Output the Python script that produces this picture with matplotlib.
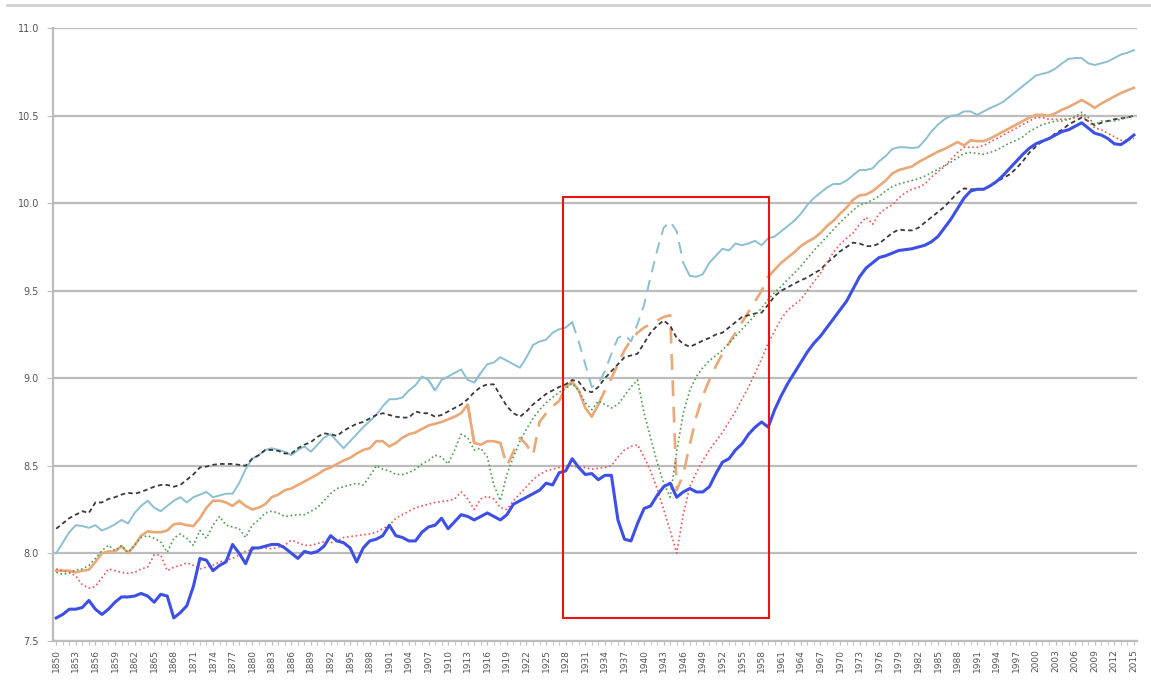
import matplotlib
matplotlib.use("Agg")
import matplotlib.pyplot as plt
import numpy as np
from matplotlib.lines import Line2D
from matplotlib.patches import Rectangle

years = list(range(1850, 2016))

blue = [7.63, 7.65, 7.68, 7.68, 7.69, 7.73, 7.68, 7.65, 7.68, 7.72,
        7.75, 7.75, 7.755, 7.77, 7.755, 7.72, 7.765, 7.755, 7.63, 7.66,
        7.70, 7.81, 7.97, 7.96, 7.90, 7.93, 7.95, 8.05, 8.00, 7.94,
        8.03, 8.03, 8.04, 8.05, 8.05, 8.03, 8.00, 7.97, 8.01, 8.00,
        8.01, 8.04, 8.10, 8.07, 8.06, 8.03, 7.95, 8.03, 8.07, 8.08,
        8.10, 8.16, 8.10, 8.09, 8.07, 8.07, 8.12, 8.15, 8.16, 8.20,
        8.14, 8.18, 8.22, 8.21, 8.19, 8.21, 8.23, 8.21, 8.19, 8.22,
        8.28, 8.30, 8.32, 8.34, 8.36, 8.40, 8.39, 8.46, 8.47, 8.54,
        8.49, 8.45, 8.455, 8.42, 8.445, 8.445, 8.19, 8.08, 8.07, 8.17,
        8.255, 8.27, 8.33, 8.38, 8.40, 8.32, 8.35, 8.37, 8.35, 8.35,
        8.38, 8.455, 8.52, 8.54, 8.59, 8.625, 8.68, 8.72, 8.75, 8.72,
        8.82, 8.90, 8.97, 9.03, 9.09, 9.15, 9.20, 9.24, 9.29, 9.34,
        9.39, 9.44, 9.51, 9.58, 9.63, 9.66, 9.69, 9.70, 9.715, 9.73,
        9.735, 9.74, 9.75, 9.76, 9.78, 9.81, 9.86, 9.91, 9.97, 10.03,
        10.07, 10.08, 10.08, 10.10, 10.125, 10.16, 10.20, 10.24, 10.28, 10.315,
        10.34, 10.355, 10.37, 10.39, 10.41, 10.42, 10.44, 10.46, 10.43, 10.40,
        10.39, 10.37, 10.34, 10.335, 10.36, 10.39]

light_blue = [8.00, 8.06, 8.12, 8.16, 8.155, 8.145, 8.16, 8.13, 8.145, 8.165,
              8.19, 8.17, 8.23, 8.27, 8.30, 8.26, 8.24, 8.27, 8.30, 8.32,
              8.29, 8.32, 8.335, 8.35, 8.32, 8.33, 8.34, 8.34, 8.40, 8.48,
              8.54, 8.56, 8.59, 8.60, 8.59, 8.58, 8.56, 8.59, 8.61, 8.58,
              8.62, 8.66, 8.68, 8.64, 8.60, 8.64, 8.68, 8.72, 8.755, 8.79,
              8.84, 8.88, 8.88, 8.89, 8.93, 8.96, 9.01, 8.99, 8.93, 8.99,
              9.01, 9.03, 9.05, 8.99, 8.975, 9.03, 9.08, 9.09, 9.12, 9.10,
              9.08, 9.06, 9.12, 9.19, 9.21, 9.22, 9.26, 9.28, 9.29, 9.32,
              9.21, 9.08, 8.95, 8.97, 9.04, 9.14, 9.23, 9.25, 9.21, 9.31,
              9.42, 9.58, 9.73, 9.86, 9.895, 9.84, 9.66, 9.585, 9.58, 9.595,
              9.66, 9.70, 9.74, 9.73, 9.77, 9.76, 9.77, 9.785, 9.76, 9.80,
              9.81, 9.84, 9.87, 9.90, 9.94, 9.99, 10.03, 10.06, 10.09, 10.11,
              10.11, 10.13, 10.16, 10.19, 10.19, 10.20, 10.24, 10.27, 10.31, 10.32,
              10.32, 10.315, 10.32, 10.36, 10.41, 10.45, 10.48, 10.50, 10.505, 10.525,
              10.525, 10.505, 10.525, 10.545, 10.56, 10.58, 10.61, 10.64, 10.67, 10.70,
              10.73, 10.74, 10.75, 10.77, 10.80, 10.825, 10.83, 10.83, 10.80, 10.79,
              10.80, 10.81, 10.83, 10.85, 10.86, 10.875]

orange = [7.90, 7.90, 7.90, 7.89, 7.90, 7.905, 7.95, 8.00, 8.01, 8.01,
          8.04, 8.00, 8.045, 8.10, 8.125, 8.12, 8.12, 8.13, 8.165, 8.17,
          8.16, 8.155, 8.20, 8.26, 8.30, 8.30, 8.29, 8.27, 8.30, 8.27,
          8.25, 8.26, 8.28, 8.32, 8.335, 8.36, 8.37, 8.39, 8.41, 8.43,
          8.45, 8.475, 8.49, 8.51, 8.53, 8.545, 8.57, 8.59, 8.60, 8.64,
          8.64, 8.61, 8.63, 8.66, 8.68, 8.69, 8.71, 8.73, 8.74, 8.75,
          8.765, 8.78, 8.80, 8.85, 8.63, 8.62, 8.64, 8.64, 8.63, 8.50,
          8.58, 8.66, 8.62, 8.56, 8.75, 8.80, 8.84, 8.87, 8.95, 8.98,
          8.93, 8.83, 8.78, 8.85, 8.93, 9.00, 9.08, 9.16, 9.22, 9.26,
          9.29, 9.31, 9.33, 9.35, 9.36, 8.36, 8.45, 8.62, 8.78, 8.90,
          8.99, 9.07, 9.14, 9.20, 9.26, 9.32, 9.38, 9.44, 9.50, 9.58,
          9.62, 9.66, 9.69, 9.72, 9.755, 9.78, 9.80, 9.83, 9.87, 9.90,
          9.94, 9.975, 10.02, 10.045, 10.05, 10.07, 10.10, 10.13, 10.17, 10.19,
          10.20, 10.21, 10.235, 10.255, 10.275, 10.295, 10.31, 10.33, 10.35, 10.33,
          10.36, 10.355, 10.355, 10.37, 10.39, 10.41, 10.43, 10.45, 10.47, 10.49,
          10.505, 10.505, 10.50, 10.515, 10.535, 10.55, 10.57, 10.59, 10.57, 10.545,
          10.57, 10.59, 10.61, 10.63, 10.645, 10.66]

green = [7.89, 7.88, 7.885, 7.905, 7.91, 7.93, 7.97, 8.015, 8.045, 8.015,
         8.045, 8.005, 8.045, 8.09, 8.10, 8.085, 8.065, 8.005, 8.085, 8.11,
         8.085, 8.045, 8.13, 8.085, 8.16, 8.21, 8.16, 8.15, 8.14, 8.09,
         8.16, 8.19, 8.23, 8.24, 8.23, 8.21, 8.215, 8.22, 8.22, 8.24,
         8.26, 8.30, 8.34, 8.37, 8.38, 8.39, 8.40, 8.39, 8.44, 8.50,
         8.48, 8.47, 8.45, 8.45, 8.46, 8.48, 8.51, 8.53, 8.56, 8.55,
         8.51, 8.59, 8.68, 8.66, 8.59, 8.60, 8.55, 8.39, 8.30, 8.45,
         8.55, 8.64, 8.71, 8.77, 8.82, 8.86, 8.89, 8.92, 8.94, 8.97,
         8.93, 8.86, 8.82, 8.87, 8.85, 8.83, 8.85, 8.90, 8.95, 8.99,
         8.80, 8.66, 8.52, 8.40, 8.32, 8.58, 8.80, 8.93, 9.01, 9.06,
         9.10, 9.13, 9.16, 9.20, 9.24, 9.28, 9.32, 9.36, 9.40, 9.45,
         9.49, 9.525, 9.565, 9.60, 9.64, 9.685, 9.73, 9.77, 9.81, 9.85,
         9.89, 9.925, 9.96, 9.99, 10.00, 10.02, 10.04, 10.07, 10.095, 10.11,
         10.12, 10.13, 10.14, 10.155, 10.175, 10.195, 10.215, 10.235, 10.26, 10.285,
         10.29, 10.285, 10.28, 10.29, 10.305, 10.325, 10.345, 10.36, 10.38, 10.41,
         10.43, 10.45, 10.46, 10.47, 10.47, 10.48, 10.495, 10.52, 10.49, 10.45,
         10.47, 10.47, 10.47, 10.48, 10.49, 10.50]

red = [7.91, 7.90, 7.89, 7.87, 7.82, 7.80, 7.81, 7.86, 7.91, 7.90,
       7.89, 7.885, 7.89, 7.91, 7.92, 7.99, 7.99, 7.90, 7.92, 7.93,
       7.945, 7.93, 7.91, 7.92, 7.93, 7.95, 7.96, 7.97, 7.99, 8.01,
       8.02, 8.03, 8.03, 8.025, 8.035, 8.045, 8.075, 8.06, 8.045, 8.045,
       8.055, 8.065, 8.06, 8.07, 8.09, 8.095, 8.10, 8.105, 8.11, 8.12,
       8.14, 8.16, 8.20, 8.22, 8.24, 8.26, 8.27, 8.28, 8.29, 8.295,
       8.30, 8.31, 8.35, 8.31, 8.25, 8.31, 8.325, 8.31, 8.26, 8.25,
       8.30, 8.34, 8.38, 8.42, 8.45, 8.47, 8.48, 8.49, 8.50, 8.50,
       8.49, 8.49, 8.48, 8.485, 8.49, 8.50, 8.55, 8.59, 8.61, 8.62,
       8.55, 8.47, 8.37, 8.25, 8.13, 8.00, 8.22, 8.38, 8.46, 8.53,
       8.59, 8.64, 8.69, 8.75, 8.81, 8.88, 8.95, 9.03, 9.11, 9.20,
       9.27, 9.34, 9.39, 9.42, 9.45, 9.50, 9.55, 9.60, 9.66, 9.72,
       9.765, 9.80, 9.83, 9.88, 9.92, 9.88, 9.94, 9.97, 9.99, 10.03,
       10.06, 10.08, 10.09, 10.11, 10.15, 10.18, 10.21, 10.25, 10.29, 10.32,
       10.32, 10.32, 10.33, 10.35, 10.37, 10.39, 10.41, 10.43, 10.45, 10.47,
       10.49, 10.49, 10.48, 10.48, 10.48, 10.48, 10.49, 10.505, 10.47, 10.43,
       10.42, 10.40, 10.38, 10.36, 10.36, 10.37]

black = [8.14, 8.17, 8.20, 8.22, 8.24, 8.23, 8.29, 8.29, 8.31, 8.32,
         8.335, 8.345, 8.34, 8.35, 8.365, 8.38, 8.39, 8.39, 8.38, 8.39,
         8.42, 8.45, 8.49, 8.495, 8.505, 8.51, 8.51, 8.51, 8.505, 8.50,
         8.54, 8.56, 8.59, 8.59, 8.585, 8.57, 8.57, 8.60, 8.62, 8.635,
         8.665, 8.685, 8.68, 8.67, 8.70, 8.72, 8.74, 8.75, 8.77, 8.79,
         8.80, 8.79, 8.78, 8.775, 8.775, 8.81, 8.80, 8.80, 8.78, 8.79,
         8.81, 8.83, 8.85, 8.88, 8.92, 8.95, 8.965, 8.965, 8.90, 8.84,
         8.80, 8.78, 8.81, 8.85, 8.88, 8.91, 8.93, 8.95, 8.965, 8.99,
         8.98, 8.93, 8.92, 8.95, 9.00, 9.04, 9.08, 9.12, 9.13, 9.14,
         9.20, 9.26, 9.30, 9.33, 9.30, 9.23, 9.196, 9.18, 9.196, 9.215,
         9.23, 9.25, 9.26, 9.29, 9.32, 9.35, 9.36, 9.37, 9.375, 9.42,
         9.47, 9.50, 9.52, 9.54, 9.56, 9.575, 9.60, 9.62, 9.66, 9.69,
         9.725, 9.75, 9.775, 9.77, 9.755, 9.755, 9.77, 9.80, 9.83, 9.85,
         9.845, 9.845, 9.86, 9.89, 9.92, 9.95, 9.98, 10.02, 10.06, 10.085,
         10.08, 10.08, 10.08, 10.10, 10.125, 10.145, 10.165, 10.20, 10.24, 10.29,
         10.325, 10.355, 10.37, 10.40, 10.42, 10.45, 10.47, 10.49, 10.47, 10.445,
         10.46, 10.47, 10.48, 10.485, 10.49, 10.50]

x_tick_years = list(range(1850, 2016, 3))
y_ticks = [7.5, 8.0, 8.5, 9.0, 9.5, 10.0, 10.5, 11.0]

# style config: (values, color, lw, main linestyle, dashed year ranges, zorder)
series = [
    (light_blue, '#8cbfd2', 1.4, '-', [(1907, 1908), (1914, 1915), (1929, 1946)], 3),
    (orange, '#eaa877', 1.9, '-', [(1913, 1914), (1918, 1928), (1933, 1959)], 3),
    (black, '#3a3a3a', 1.3, (0, (2.5, 1.8)), [], 4),
    (green, '#4e9e4e', 1.2, (0, (1, 1.6)), [], 4),
    (red, '#f05555', 1.2, (0, (1, 1.6)), [], 4),
    (blue, '#3d50e6', 2.2, '-', [], 5),
]

fig = plt.figure(figsize=(11.51, 6.85), dpi=100)
ax = fig.add_axes([0.046, 0.0647, 0.942, 0.894])

yrs = np.array(years, dtype=float)
for vals, col, lw, ls, dashed, z in series:
    v = np.array(vals, dtype=float)
    main = v.copy()
    for a, b in dashed:
        m = (yrs > a) & (yrs < b)
        main[m] = np.nan
        mm = (yrs >= a) & (yrs <= b)
        ax.plot(yrs[mm], v[mm], color=col, lw=lw, ls=(0, (6, 4)), zorder=z,
                dash_capstyle='butt')
    ax.plot(yrs, main, color=col, lw=lw, ls=ls, zorder=z)

ax.set_xlim(1849.5, 2015.5)
ax.set_ylim(7.5, 11.0)
ax.set_yticks(y_ticks)
ax.set_yticklabels([f"{t:.1f}" for t in y_ticks], fontsize=7, color='#555555')
ax.yaxis.grid(True, color='#bcbcbc', lw=1.6, zorder=0)
ax.set_axisbelow(True)
ax.set_xticks(x_tick_years)
ax.set_xticklabels([str(y) for y in x_tick_years], rotation=90, fontsize=6.5, color='#555555')
ax.set_xticks(years, minor=True)
ax.tick_params(axis='x', which='both', direction='out', length=3, color='#bcbcbc', pad=3)
ax.tick_params(axis='y', direction='out', length=4, color='#bcbcbc', pad=6)
for s in ['top', 'right']:
    ax.spines[s].set_visible(False)
for s in ['left', 'bottom']:
    ax.spines[s].set_color('#bcbcbc')
    ax.spines[s].set_linewidth(1.6)

ax.add_patch(Rectangle((1927.6, 7.63), 31.5, 2.405, fill=False,
                       edgecolor='#ee1111', lw=1.5, zorder=6, clip_on=False))

fig.add_artist(Line2D([7 / 1151, 1.0], [1 - 5 / 685, 1 - 5 / 685],
                      color='#d0d0d0', lw=2))

fig.savefig("out.png", dpi=100)
